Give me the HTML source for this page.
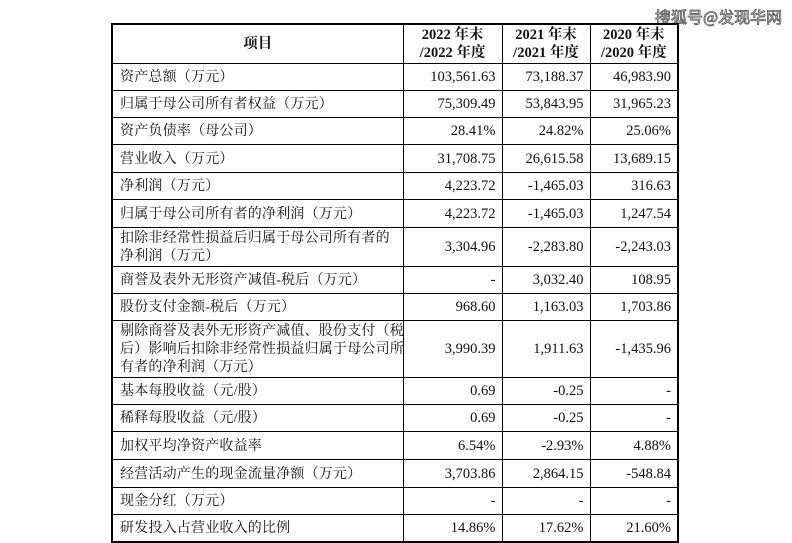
<!DOCTYPE html>
<html><head><meta charset="utf-8"><style>
body{margin:0;background:#fff;width:792px;height:542px;position:relative;overflow:hidden}
table{position:absolute;left:111px;top:23px;border-collapse:collapse;table-layout:fixed;width:568px;border:2px solid #000;font-family:"Liberation Serif","Noto Serif CJK SC","Noto Sans CJK SC",serif;font-size:14px;color:#111}
td{border:1px solid #000;padding:0 6px;line-height:18px;white-space:nowrap;overflow:hidden}
td.l{text-align:left;font-family:"Liberation Serif","Noto Serif CJK SC",serif;letter-spacing:0.2px;padding-left:7px;padding-top:2px}
td.n{text-align:right;font-size:14.5px}
th{border:1px solid #000;font-weight:bold;line-height:18px;font-size:14.5px;white-space:nowrap}
.wm{position:absolute;left:655px;top:4px;font-family:"Noto Sans CJK SC",sans-serif;font-size:16px;color:#fff;-webkit-text-stroke:0.8px #555}
</style></head><body>
<div class="wm">搜狐号@发现华网</div>
<table>
<colgroup><col style="width:291px"><col style="width:99px"><col style="width:88px"><col style="width:88px"></colgroup>
<tr style="height:38px"><th>项目</th><th>2022 年末<br>/2022 年度</th><th>2021 年末<br>/2021 年度</th><th>2020 年末<br>/2020 年度</th></tr>
<tr style="height:27px"><td class="l">资产总额（万元）</td><td class="n">103,561.63</td><td class="n">73,188.37</td><td class="n">46,983.90</td></tr>
<tr style="height:27px"><td class="l">归属于母公司所有者权益（万元）</td><td class="n">75,309.49</td><td class="n">53,843.95</td><td class="n">31,965.23</td></tr>
<tr style="height:27px"><td class="l">资产负债率（母公司）</td><td class="n">28.41%</td><td class="n">24.82%</td><td class="n">25.06%</td></tr>
<tr style="height:28px"><td class="l">营业收入（万元）</td><td class="n">31,708.75</td><td class="n">26,615.58</td><td class="n">13,689.15</td></tr>
<tr style="height:27px"><td class="l">净利润（万元）</td><td class="n">4,223.72</td><td class="n">-1,465.03</td><td class="n">316.63</td></tr>
<tr style="height:28px"><td class="l">归属于母公司所有者的净利润（万元）</td><td class="n">4,223.72</td><td class="n">-1,465.03</td><td class="n">1,247.54</td></tr>
<tr style="height:38px"><td class="l">扣除非经常性损益后归属于母公司所有者的<br>净利润（万元）</td><td class="n">3,304.96</td><td class="n">-2,283.80</td><td class="n">-2,243.03</td></tr>
<tr style="height:27px"><td class="l">商誉及表外无形资产减值-税后（万元）</td><td class="n">-</td><td class="n">3,032.40</td><td class="n">108.95</td></tr>
<tr style="height:27px"><td class="l">股份支付金额-税后（万元）</td><td class="n">968.60</td><td class="n">1,163.03</td><td class="n">1,703.86</td></tr>
<tr style="height:56px"><td class="l">剔除商誉及表外无形资产减值、股份支付（税<br>后）影响后扣除非经常性损益归属于母公司所<br>有者的净利润（万元）</td><td class="n">3,990.39</td><td class="n">1,911.63</td><td class="n">-1,435.96</td></tr>
<tr style="height:27px"><td class="l">基本每股收益（元/股）</td><td class="n">0.69</td><td class="n">-0.25</td><td class="n">-</td></tr>
<tr style="height:27px"><td class="l">稀释每股收益（元/股）</td><td class="n">0.69</td><td class="n">-0.25</td><td class="n">-</td></tr>
<tr style="height:28px"><td class="l">加权平均净资产收益率</td><td class="n">6.54%</td><td class="n">-2.93%</td><td class="n">4.88%</td></tr>
<tr style="height:28px"><td class="l">经营活动产生的现金流量净额（万元）</td><td class="n">3,703.86</td><td class="n">2,864.15</td><td class="n">-548.84</td></tr>
<tr style="height:27px"><td class="l">现金分红（万元）</td><td class="n">-</td><td class="n">-</td><td class="n">-</td></tr>
<tr style="height:27px"><td class="l">研发投入占营业收入的比例</td><td class="n">14.86%</td><td class="n">17.62%</td><td class="n">21.60%</td></tr>
</table>
</body></html>
